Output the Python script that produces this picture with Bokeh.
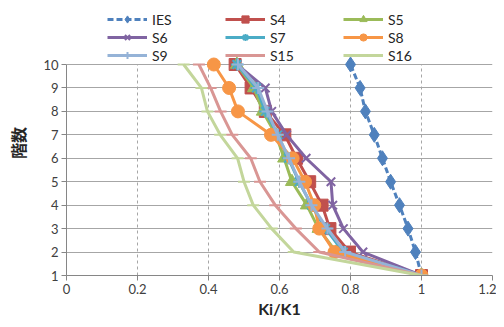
from bokeh.plotting import figure
from bokeh.models import Legend, LegendItem, Range1d, FixedTicker
from bokeh.embed import file_html
from bokeh.resources import INLINE

floors = [1, 2, 3, 4, 5, 6, 7, 8, 9, 10]
ies = [1.0, 0.983, 0.962, 0.938, 0.913, 0.89, 0.867, 0.842, 0.827, 0.80]
s4 = [1.0, 0.797, 0.742, 0.72, 0.685, 0.648, 0.615, 0.56, 0.52, 0.475]
s5 = [1.0, 0.76, 0.71, 0.677, 0.635, 0.613, 0.59, 0.553, 0.528, 0.48]
s6 = [1.0, 0.835, 0.78, 0.75, 0.745, 0.675, 0.62, 0.578, 0.56, 0.48]
s7 = [1.0, 0.78, 0.73, 0.69, 0.655, 0.625, 0.595, 0.56, 0.535, 0.48]
s8 = [1.0, 0.755, 0.712, 0.698, 0.672, 0.637, 0.576, 0.483, 0.458, 0.415]
s9 = [1.0, 0.785, 0.735, 0.69, 0.656, 0.627, 0.595, 0.566, 0.54, 0.483]
s15 = [1.0, 0.712, 0.646, 0.588, 0.545, 0.519, 0.467, 0.434, 0.406, 0.373]
s16 = [1.0, 0.64, 0.578, 0.526, 0.5, 0.482, 0.433, 0.397, 0.38, 0.33]
x_ticks = [0, 0.2, 0.4, 0.6, 0.8, 1.0, 1.2]
y_ticks = [1, 2, 3, 4, 5, 6, 7, 8, 9, 10]

series = [
    ("IES", ies, "#4F81BD", "diamond", 15, "6 3"),
    ("S4", s4, "#C0504D", "square", 12, "solid"),
    ("S5", s5, "#9BBB59", "triangle", 13, "solid"),
    ("S6", s6, "#8064A2", "x", 12, "solid"),
    ("S7", s7, "#4BACC6", "asterisk", 12, "solid"),
    ("S8", s8, "#F79646", "circle", 13, "solid"),
    ("S9", s9, "#95B3D7", "cross", 12, "solid"),
    ("S15", s15, "#D99694", "dash", 12, "solid"),
    ("S16", s16, "#C3D69B", "dash", 12, "solid"),
]

# extra room above floor 10 inside the frame holds the legend
y_top = 10 + 54 / 23.44

p = figure(width=496, height=320, output_backend="svg", toolbar_location=None,
           x_range=Range1d(0, 1.2), y_range=Range1d(1, y_top),
           min_border_left=66, min_border_right=4, min_border_top=10, min_border_bottom=45)
p.outline_line_color = None
p.background_fill_color = "white"

FONT = "Lato"
for ax in (p.xaxis[0], p.yaxis[0]):
    ax.axis_line_color = "#868686"
    ax.major_tick_line_color = "#868686"
    ax.minor_tick_line_color = None
    ax.major_tick_in = 0
    ax.major_tick_out = 5
    ax.major_label_standoff = 3
    ax.major_label_text_font = FONT
    ax.major_label_text_font_size = "13px"
    ax.major_label_text_color = "#404040"
    ax.axis_label_text_font_style = "bold"
    ax.axis_label_text_font_size = "16px"
    ax.axis_label_text_color = "#262626"

p.xaxis.ticker = FixedTicker(ticks=x_ticks)
p.yaxis.ticker = FixedTicker(ticks=y_ticks)
p.yaxis.bounds = (1, 10)
p.xaxis.axis_label = "Ki/K1"
p.xaxis.axis_label_text_font = FONT
p.yaxis.axis_label = "階数"
p.yaxis.axis_label_text_font = "Noto Sans CJK JP"
p.xaxis.axis_label_standoff = 2
p.yaxis.axis_label_standoff = 10

p.ygrid.grid_line_color = "#A6A6A6"
p.ygrid.grid_line_width = 1
try:
    p.xgrid.cross_bounds = (1, 10)
    p.xgrid.grid_line_color = "#A6A6A6"
    p.xgrid.grid_line_dash = "3 3"
except Exception:
    p.xgrid.grid_line_color = None
    p.segment(x0=x_ticks[1:], y0=[y_ticks[0]] * 6, x1=x_ticks[1:], y1=[y_ticks[-1]] * 6,
              line_color="#A6A6A6", line_dash="3 3", line_width=1)

items = {}
for name, vals, color, marker, size, dash in series:
    r1 = p.line(vals, floors, line_color=color, line_width=3, line_dash=dash)
    r2 = p.scatter(vals, floors, marker=marker, size=size, fill_color=color,
                   line_color=color, line_width=2 if marker in ("x", "asterisk", "cross", "dash") else 1)
    items[name] = LegendItem(label=name, renderers=[r1, r2])

# column-major order so that rows read IES S4 S5 / S6 S7 S8 / S9 S15 S16
legend_order = ["IES", "S6", "S9", "S4", "S7", "S15", "S5", "S8", "S16"]
legend = Legend(items=[items[n] for n in legend_order], nrows=3, orientation="vertical",
                location=(41, 211),
                label_text_font=FONT, label_text_font_size="14px", label_text_color="#262626",
                glyph_width=40, glyph_height=18, label_standoff=5, spacing=0,
                label_width=73, label_height=18, padding=0, margin=0,
                background_fill_alpha=0, border_line_color=None)
p.add_layout(legend, "center")

open("out.html", "w").write(file_html(p, INLINE))
